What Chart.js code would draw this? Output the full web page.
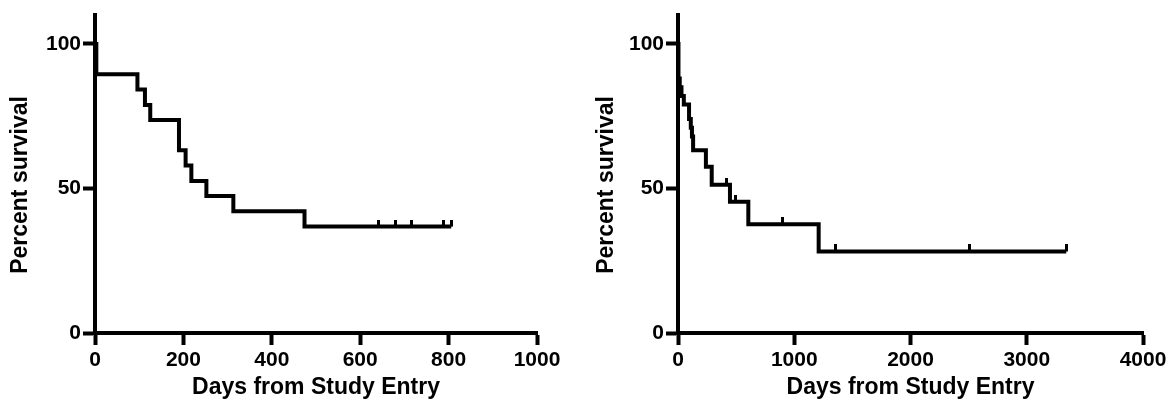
<!DOCTYPE html>
<html>
<head>
<meta charset="utf-8">
<script src="https://cdn.jsdelivr.net/npm/chart.js@4.4.1/dist/chart.umd.min.js"></script>
<style>
  html, body { margin: 0; padding: 0; background: #fff; }
  .panel { position: absolute; top: 0; width: 586px; height: 407px; }
  #left { left: 0; }
  #right { left: 586px; }
</style>
</head>
<body>
<div class="panel" id="left"><canvas id="survA"></canvas></div>
<div class="panel" id="right"><canvas id="survB"></canvas></div>
<script>
// Left panel - Kaplan-Meier steps (day of event, survival after it)
const daysA = [0, 3, 96, 113, 125, 190, 205, 218, 252, 313, 474, 806];
const survA = [100, 89.5, 84.2, 78.9, 73.7, 63.2, 57.9, 52.6, 47.4, 42.1, 36.8, 36.8];
const censorA = [641, 679, 716, 788, 806];

// Right panel
const daysB = [0, 4, 15, 30, 50, 95, 110, 120, 130, 240, 290, 447, 605, 1210, 3340];
const survB = [100, 88, 85, 82, 79, 74, 71, 68, 63.2, 57.5, 51.3, 45.4, 37.6, 28.2, 28.2];
const censorB = [418, 498, 895, 1355, 2510, 3340];

const yTicks = [0, 50, 100];
const xTicksA = [0, 200, 400, 600, 800, 1000];
const xTicksB = [0, 1000, 2000, 3000, 4000];

const FONT = "'Liberation Sans', Arial, Helvetica, sans-serif";
const Y_TITLE = 'Percent survival';

// survival level at a given day, read from the step arrays
function survAt(days, surv, t) {
    let s = surv[0];
    for (let i = 0; i < days.length; i++) {
        if (days[i] <= t) s = surv[i];
    }
    return s;
}

// little upward tick used for censored subjects
function censorMark() {
    const c = document.createElement('canvas');
    c.width = 3;
    c.height = 14;
    const g = c.getContext('2d');
    g.fillStyle = '#000';
    g.fillRect(0, 0, 3, 7);
    return c;
}

// y title drawn by hand so it sits a bit lower, like the original
const yTitlePlugin = {
    id: 'yTitle',
    afterDraw(chart) {
        const { ctx, chartArea } = chart;
        ctx.save();
        ctx.translate(21, (chartArea.top + chartArea.bottom) / 2 + 11);
        ctx.rotate(-Math.PI / 2);
        ctx.fillStyle = '#000';
        ctx.font = 'bold 23px ' + FONT;
        ctx.textAlign = 'center';
        ctx.textBaseline = 'middle';
        ctx.fillText(Y_TITLE, 0, 0);
        ctx.restore();
    }
};

function makeChart(id, days, surv, censor, xTicks, yWidth, padRight) {
    const ctx = document.getElementById(id).getContext('2d');
    const mark = censorMark();
    return new Chart(ctx, {
        type: 'line',
        data: {
            datasets: [{
                data: days.map((d, i) => ({ x: d, y: surv[i] })),
                borderColor: '#000',
                borderWidth: 4,
                stepped: 'before',
                pointRadius: 0,
                fill: false
            }, {
                data: censor.map(d => ({ x: d, y: survAt(days, surv, d) })),
                showLine: false,
                pointStyle: mark,
                pointRadius: 5
            }]
        },
        plugins: [yTitlePlugin],
        options: {
            responsive: false,
            animation: false,
            events: [],
            layout: { padding: { left: 0, right: padRight, top: 15, bottom: 0 } },
            plugins: { legend: { display: false }, tooltip: { enabled: false } },
            scales: {
                x: {
                    type: 'linear',
                    min: xTicks[0],
                    max: xTicks[xTicks.length - 1],
                    afterBuildTicks: s => { s.ticks = xTicks.map(v => ({ value: v })); },
                    afterFit: s => { s.height = 74; },
                    border: { display: true, color: '#000', width: 4 },
                    grid: { drawOnChartArea: false, drawTicks: true, tickLength: 12, tickWidth: 4, tickColor: '#000' },
                    ticks: {
                        color: '#000', padding: 3, maxRotation: 0,
                        font: { family: FONT, size: 21, weight: 'bold' },
                        callback: v => String(v)
                    },
                    title: {
                        display: true,
                        text: 'Days from Study Entry',
                        color: '#000',
                        padding: { top: 0, bottom: 6 },
                        font: { family: FONT, size: 23, weight: 'bold' }
                    }
                },
                y: {
                    min: 0,
                    max: 110,
                    afterBuildTicks: s => { s.ticks = yTicks.map(v => ({ value: v })); },
                    afterFit: s => { s.width = yWidth; },
                    border: { display: true, color: '#000', width: 4 },
                    grid: { drawOnChartArea: false, drawTicks: true, tickLength: 12, tickWidth: 4, tickColor: '#000' },
                    ticks: {
                        color: '#000', padding: 2,
                        font: { family: FONT, size: 21, weight: 'bold' },
                        callback: v => String(v)
                    },
                    title: { display: false }
                }
            }
        }
    });
}

for (const id of ['survA', 'survB']) {
    const cv = document.getElementById(id);
    cv.width = 586;
    cv.height = 407;
}

makeChart('survA', daysA, survA, censorA, xTicksA, 95, 49);
makeChart('survB', daysB, survB, censorB, xTicksB, 92, 29);
</script>
</body>
</html>
